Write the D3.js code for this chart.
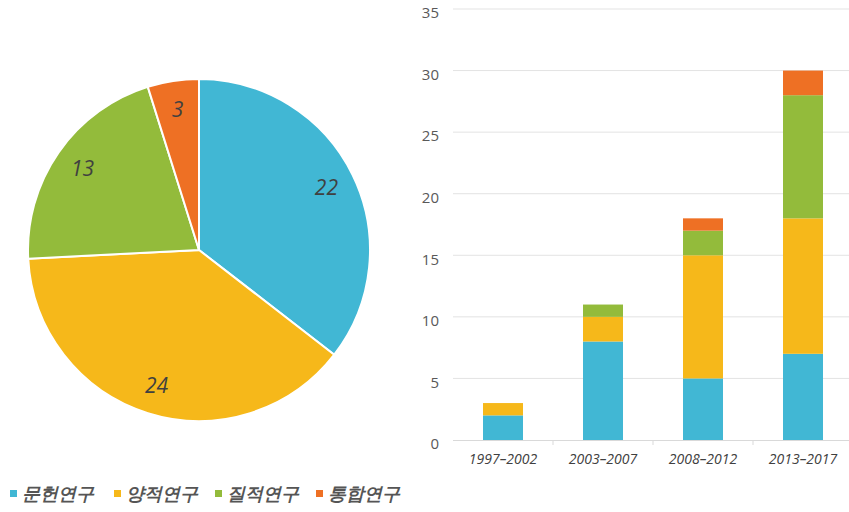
<!DOCTYPE html>
<html>
<head>
<meta charset="utf-8">
<script src="https://cdn.jsdelivr.net/npm/d3@7"></script>
<style>
  body { margin: 0; background: #fff; }
  svg { display: block; }
  text { font-family: "Open Sans", "Noto Sans", sans-serif; }
</style>
</head>
<body>
<div id="chart"></div>
<script>
// categories and colours
const types = ['문헌연구', '양적연구', '질적연구', '통합연구'];
const colors = ['#41B7D4', '#F6B81A', '#93BB3B', '#EE7024'];

// pie totals
const totals = [22, 24, 13, 3];

// stacked bars by period
const periods = ['1997–2002', '2003–2007', '2008–2012', '2013–2017'];
const munheon = [2, 8, 5, 7];
const yangjeok = [1, 2, 10, 11];
const jiljeok = [0, 1, 2, 10];
const tonghap = [0, 0, 1, 2];
const yTicks = [0, 5, 10, 15, 20, 25, 30, 35];

const width = 849, height = 512;
const svg = d3.select('#chart').append('svg')
  .attr('width', width)
  .attr('height', height);

// ---- pie ----
const cx = 199, cy = 250, r = 171;
const pie = d3.pie().sort(null).value(d => d);
const arc = d3.arc().innerRadius(0).outerRadius(r);
const labelArc = d3.arc().innerRadius(r * 0.83).outerRadius(r * 0.83);

const pieG = svg.append('g').attr('transform', `translate(${cx},${cy})`);
const arcs = pie(totals);

pieG.selectAll('path')
  .data(arcs)
  .enter()
  .append('path')
  .attr('d', arc)
  .attr('fill', (d, i) => colors[i])
  .attr('stroke', '#fff')
  .attr('stroke-width', 2);

pieG.selectAll('.pie-label')
  .data(arcs)
  .enter()
  .append('text')
  .attr('class', 'pie-label')
  .attr('transform', d => `translate(${labelArc.centroid(d)})`)
  .attr('text-anchor', 'middle')
  .attr('dy', '0.35em')
  .attr('font-size', 21)
  .attr('font-style', 'italic')
  .attr('fill', '#404040')
  .text(d => d.data);

// ---- stacked bars ----
const margin = { left: 453, right: 849, top: 9, bottom: 440 };

const rows = periods.map((p, i) => ({
  period: p,
  [types[0]]: munheon[i],
  [types[1]]: yangjeok[i],
  [types[2]]: jiljeok[i],
  [types[3]]: tonghap[i],
}));
const series = d3.stack().keys(types)(rows);

const xscale = d3.scaleBand()
  .domain(periods)
  .range([margin.left, margin.left + 400])
  .paddingInner(0.6)
  .paddingOuter(0.3);
const yscale = d3.scaleLinear()
  .domain([0, 35])
  .range([margin.bottom, margin.top]);

// gridlines
svg.append('g')
  .selectAll('line')
  .data(yTicks.filter(d => d > 0))
  .enter()
  .append('line')
  .attr('x1', margin.left)
  .attr('x2', margin.right)
  .attr('y1', d => yscale(d))
  .attr('y2', d => yscale(d))
  .attr('stroke', '#e3e3e3')
  .attr('stroke-width', 1);

// y axis labels (they sit a little below their gridline)
const yaxis = d3.axisLeft(yscale).tickValues(yTicks).tickSize(0).tickPadding(0);
svg.append('g')
  .attr('transform', `translate(${margin.left - 14}, 4)`)
  .call(yaxis)
  .call(g => g.select('.domain').remove())
  .call(g => g.selectAll('text')
    .attr('font-size', 15)
    .attr('fill', '#595959'));

series.forEach((s, k) => {
  svg.append('g')
    .attr('fill', colors[k])
    .selectAll('rect')
    .data(s)
    .enter()
    .append('rect')
    .attr('x', d => xscale(d.data.period))
    .attr('y', d => yscale(d[1]))
    .attr('width', xscale.bandwidth())
    .attr('height', d => yscale(d[0]) - yscale(d[1]));
});

// x axis
const xaxis = d3.axisBottom(xscale).tickSize(0).tickPadding(14);
const xg = svg.append('g')
  .attr('transform', `translate(0, ${margin.bottom})`)
  .call(xaxis);
xg.select('.domain')
  .attr('d', `M${margin.left},0.5H${margin.right}`)
  .attr('stroke', '#d9d9d9');
xg.selectAll('text')
  .attr('font-size', 14)
  .attr('font-style', 'italic')
  .attr('fill', '#404040');
// category separator ticks
xg.selectAll('.sep')
  .data(periods.slice(1))
  .enter()
  .append('line')
  .attr('class', 'sep')
  .attr('x1', d => xscale(d) - xscale.step() * xscale.paddingInner() / 2)
  .attr('x2', d => xscale(d) - xscale.step() * xscale.paddingInner() / 2)
  .attr('y1', 0)
  .attr('y2', 5)
  .attr('stroke', '#d9d9d9');

// ---- legend ----
const legendX = [10, 114, 215, 316];
const legend = svg.append('g').attr('transform', 'translate(0, 494)');
const item = legend.selectAll('g')
  .data(types)
  .enter()
  .append('g')
  .attr('transform', (d, i) => `translate(${legendX[i]}, 0)`);
item.append('rect')
  .attr('x', 0)
  .attr('y', -4)
  .attr('width', 7)
  .attr('height', 7)
  .attr('fill', (d, i) => colors[i]);
item.append('text')
  .attr('x', 12)
  .attr('dy', '0.35em')
  .attr('font-family', '"Noto Sans CJK KR", sans-serif')
  .attr('font-size', 18)
  .attr('font-weight', 700)
  .attr('font-style', 'italic')
  .attr('fill', '#555')
  .text(d => d);
</script>
</body>
</html>
